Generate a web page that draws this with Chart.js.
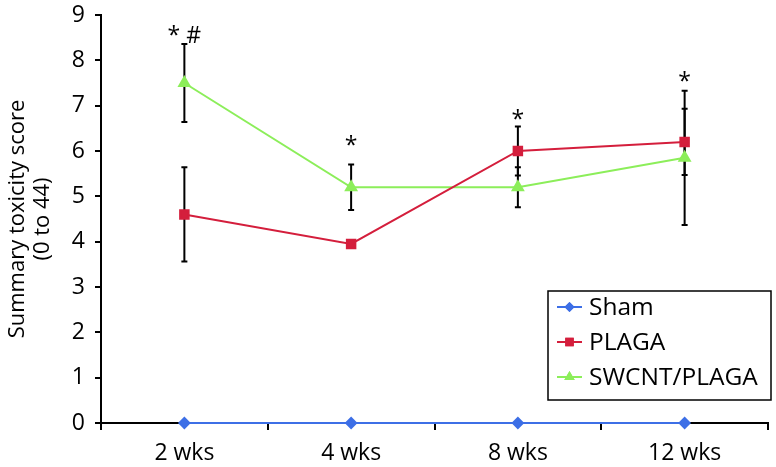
<!DOCTYPE html>
<html>
<head>
<meta charset="utf-8">
<script src="https://cdn.jsdelivr.net/npm/chart.js@4"></script>
<style>
html,body{margin:0;padding:0;background:#fff;}
#wrap{width:776px;height:467px;}
</style>
</head>
<body>
<div id="wrap"><canvas id="c" width="776" height="467"></canvas></div>
<script>
const categories = ["2 wks", "4 wks", "8 wks", "12 wks"];
const shamValues = [0, 0, 0, 0];
const plagaValues = [4.6, 3.95, 6.0, 6.2];
const plagaErrors = [1.04, 0, 0.54, 0.73];
const swcntValues = [7.5, 5.2, 5.2, 5.85];
const swcntErrors = [0.86, 0.5, 0.44, 1.48];
const sigLabels = ["* #", "*", "*", "*"];
const sigLevels = [8.63, 6.2, 6.79, 7.63];
const yTicks = [0, 1, 2, 3, 4, 5, 6, 7, 8, 9];

const FONT = "'Open Sans', 'Noto Sans', sans-serif";
const BLUE = "#3d6fe6", RED = "#d41e3c", GREEN = "#8cee5a";

const errorBars = {
  id: 'errorBars',
  beforeDatasetsDraw(chart) {
    const ctx = chart.ctx, x = chart.scales.x, y = chart.scales.y;
    const sets = [[plagaValues, plagaErrors], [swcntValues, swcntErrors]];
    ctx.save();
    ctx.strokeStyle = '#000';
    ctx.lineWidth = 2;
    sets.forEach(([vals, errs]) => {
      vals.forEach((v, i) => {
        const e = errs[i];
        if (!e) return;
        const px = x.getPixelForValue(i);
        const t = y.getPixelForValue(v + e), b = y.getPixelForValue(v - e);
        ctx.beginPath();
        ctx.moveTo(px, t); ctx.lineTo(px, b);
        ctx.moveTo(px - 3, t); ctx.lineTo(px + 3, t);
        ctx.moveTo(px - 3, b); ctx.lineTo(px + 3, b);
        ctx.stroke();
      });
    });
    ctx.restore();
  },
  afterDatasetsDraw(chart) {
    const ctx = chart.ctx, x = chart.scales.x, y = chart.scales.y;
    ctx.save();
    ctx.fillStyle = '#000';
    ctx.font = "23px " + FONT;
    ctx.textAlign = 'center';
    ctx.textBaseline = 'middle';
    sigLabels.forEach((s, i) => {
      ctx.fillText(s, x.getPixelForValue(i), y.getPixelForValue(sigLevels[i]) + 5);
    });
    // legend box
    const bx = 548, by = 291, bw = 223, bh = 109;
    ctx.lineWidth = 1.5;
    ctx.strokeStyle = '#000';
    ctx.strokeRect(bx, by, bw, bh);
    ctx.font = "24.5px " + FONT;
    ctx.textAlign = 'left';
    chart.data.datasets.forEach((ds, i) => {
      const ly = by + 16 + i * 35;
      ctx.strokeStyle = ds.borderColor;
      ctx.lineWidth = 2;
      ctx.beginPath(); ctx.moveTo(557, ly); ctx.lineTo(582, ly); ctx.stroke();
      ctx.fillStyle = ds.backgroundColor;
      Chart.helpers.drawPoint(ctx, {pointStyle: ds.pointStyle, radius: ds.pointRadius, borderWidth: 0}, 569.5, ly);
      ctx.fill();
      ctx.fillStyle = '#000';
      ctx.fillText(ds.label, 589, ly + 1);
    });
    ctx.restore();
  }
};

new Chart(document.getElementById('c'), {
  type: 'line',
  data: {
    labels: categories,
    datasets: [
      {label: 'Sham', data: shamValues, borderColor: BLUE, backgroundColor: BLUE, pointStyle: 'rectRot', pointRadius: 5, borderWidth: 2, clip: false},
      {label: 'PLAGA', data: plagaValues, borderColor: RED, backgroundColor: RED, pointStyle: 'rect', pointRadius: 6, borderWidth: 2, clip: false},
      {label: 'SWCNT/PLAGA', data: swcntValues, borderColor: GREEN, backgroundColor: GREEN, pointStyle: 'triangle', pointRadius: 6, borderWidth: 2, clip: false}
    ]
  },
  options: {
    responsive: false,
    animation: false,
    layout: {padding: {top: 15, right: 3, left: 0, bottom: 0}},
    plugins: {legend: {display: false}, tooltip: {enabled: false}},
    elements: {line: {tension: 0}, point: {borderWidth: 0}},
    scales: {
      x: {
        offset: true,
        afterFit(s) { s.height = 44; s.paddingLeft = 0; s.paddingRight = 0; },
        grid: {offset: true, drawOnChartArea: false, color: '#000', lineWidth: 2, tickLength: 7},
        border: {color: '#000', width: 2},
        ticks: {color: '#000', font: {family: FONT, size: 23}, padding: 10}
      },
      y: {
        min: 0, max: 9,
        afterFit(s) { s.width = 101; s.paddingTop = 0; s.paddingBottom = 0; },
        afterBuildTicks(s) { s.ticks = yTicks.map(v => ({value: v})); },
        grid: {drawOnChartArea: false, color: '#000', lineWidth: 2, tickLength: 6},
        border: {color: '#000', width: 2},
        ticks: {color: '#000', font: {family: FONT, size: 23}, padding: 10},
        title: {display: true, text: ['Summary toxicity score', '(0 to 44)'], color: '#000', font: {family: FONT, size: 22, lineHeight: 1.1}, padding: {top: 6, bottom: 0}}
      }
    }
  },
  plugins: [errorBars]
});
</script>
</body>
</html>
